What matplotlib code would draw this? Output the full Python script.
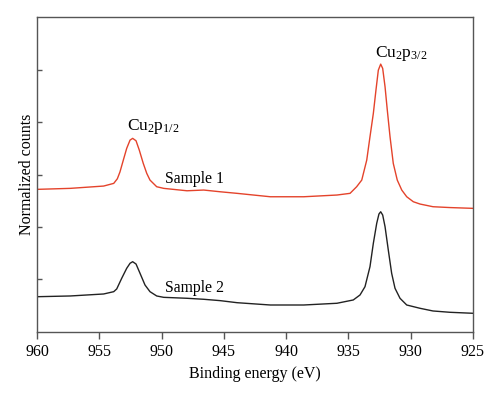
import matplotlib
matplotlib.use('Agg')
import matplotlib.pyplot as plt

# Sample 1 (red), binding energy (eV) vs normalized counts
energy_1 = [960.0, 957.33, 954.65, 953.84, 953.55, 953.34, 953.07, 952.80, 952.53,
            952.32, 952.05, 951.79, 951.47, 951.19, 950.93, 950.39, 949.83, 947.96,
            946.62, 945.29, 943.94, 941.27, 938.59, 935.92, 934.87, 934.34, 933.93,
            933.53, 933.27, 933.00, 932.79, 932.60, 932.41, 932.25, 932.06, 931.88,
            931.66, 931.40, 931.08, 930.72, 930.32, 929.79, 929.25, 928.21, 926.85,
            925.0]
counts_1 = [2.718, 2.737, 2.781, 2.832, 2.920, 3.050, 3.276, 3.499, 3.657,
            3.690, 3.644, 3.467, 3.213, 3.023, 2.895, 2.768, 2.737, 2.691,
            2.705, 2.672, 2.642, 2.577, 2.577, 2.610, 2.642, 2.768, 2.895,
            3.276, 3.720, 4.166, 4.610, 4.990, 5.105, 5.023, 4.672, 4.229,
            3.720, 3.213, 2.895, 2.705, 2.577, 2.482, 2.438, 2.387, 2.371,
            2.356]

# Sample 2 (black)
energy_2 = [960.0, 957.33, 954.65, 953.84, 953.60, 953.20, 952.80, 952.53, 952.32,
            952.05, 951.73, 951.33, 950.93, 950.39, 949.83, 947.96, 946.62, 945.29,
            943.94, 941.27, 938.59, 935.92, 934.61, 934.07, 933.67, 933.27, 933.00,
            932.73, 932.55, 932.41, 932.25, 932.06, 931.80, 931.53, 931.26, 930.86,
            930.32, 929.25, 928.21, 926.85, 925.0]
counts_2 = [0.672, 0.686, 0.724, 0.768, 0.820, 1.023, 1.213, 1.309, 1.339,
            1.295, 1.118, 0.895, 0.768, 0.686, 0.660, 0.642, 0.623, 0.597,
            0.558, 0.514, 0.514, 0.547, 0.610, 0.705, 0.863, 1.244, 1.690,
            2.070, 2.248, 2.291, 2.229, 2.006, 1.562, 1.118, 0.832, 0.642,
            0.514, 0.451, 0.400, 0.375, 0.356]

plt.rcParams['font.family'] = ['Liberation Serif', 'DejaVu Serif']
plt.rcParams['mathtext.fontset'] = 'custom'
plt.rcParams['mathtext.rm'] = 'Liberation Serif'
plt.rcParams['mathtext.it'] = 'Liberation Serif'

fig = plt.figure(figsize=(5.0, 3.99), dpi=100)
ax = fig.add_axes([0.074, 0.168, 0.872, 0.789])

ax.plot(energy_1, counts_1, color='#e4432b', lw=1.0)
ax.plot(energy_2, counts_2, color='#222222', lw=1.0)

ax.text(952.78, 3.85, r'Cu$_{\mathrm{2}}$p$_{\mathrm{1/2}}$', ha='left', va='baseline', fontsize=12.5)
ax.text(932.87, 5.24, r'Cu$_{\mathrm{2}}$p$_{\mathrm{3/2}}$', ha='left', va='baseline', fontsize=12.5)
ax.text(949.7, 2.83, 'Sample 1', ha='left', va='baseline', fontsize=11.3)
ax.text(949.7, 0.77, 'Sample 2', ha='left', va='baseline', fontsize=11.3)

ax.set_xlim(960, 925)
ax.set_ylim(0, 6)
ax.set_xticks([960, 955, 950, 945, 940, 935, 930, 925])
ax.set_yticks([1, 2, 3, 4, 5])
ax.set_yticklabels([])
ax.tick_params(axis='x', direction='out', length=5, width=1, color='#555555', labelsize=11.5, pad=4)
ax.tick_params(axis='y', direction='in', length=3.5, width=1, color='#555555')
for s in ax.spines.values():
    s.set_color('#555555')
    s.set_linewidth(1.0)

ax.set_xlabel('Binding energy (eV)', fontsize=11.5, labelpad=4)
ax.set_ylabel('Normalized counts', fontsize=11.5, labelpad=-2)

fig.savefig('out.png', dpi=100)
